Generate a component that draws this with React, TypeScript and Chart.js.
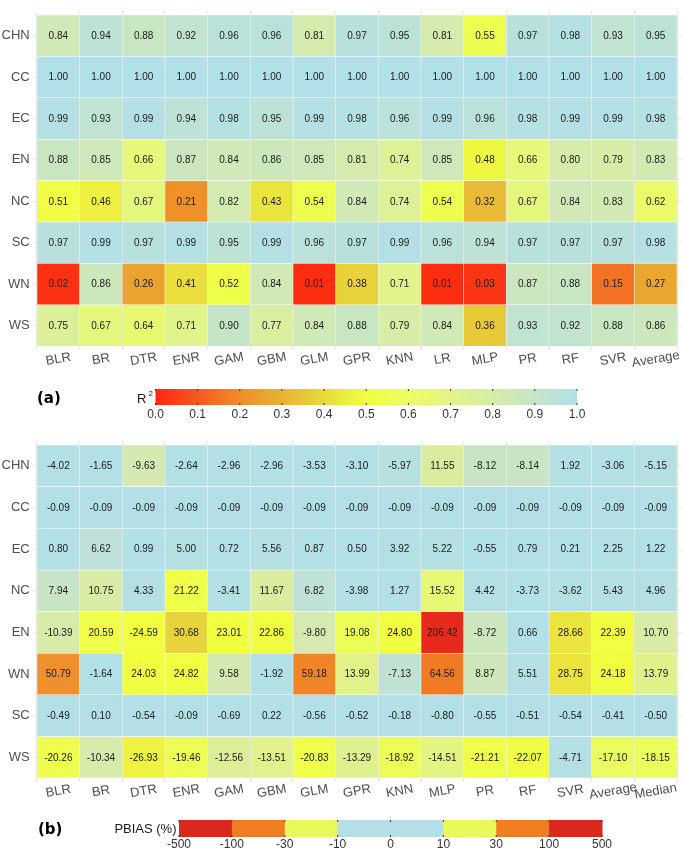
import { useEffect, useRef } from "react";
import { Chart, registerables } from "chart.js";

Chart.register(...registerables);

// ---------------- Data: panel (a) R² ----------------
const r2Columns = ["BLR", "BR", "DTR", "ENR", "GAM", "GBM", "GLM", "GPR", "KNN", "LR", "MLP", "PR", "RF", "SVR", "Average"];
const r2Rows = ["CHN", "CC", "EC", "EN", "NC", "SC", "WN", "WS"];
const r2CHN = [0.84, 0.94, 0.88, 0.92, 0.96, 0.96, 0.81, 0.97, 0.95, 0.81, 0.55, 0.97, 0.98, 0.93, 0.95];
const r2CC = [1.0, 1.0, 1.0, 1.0, 1.0, 1.0, 1.0, 1.0, 1.0, 1.0, 1.0, 1.0, 1.0, 1.0, 1.0];
const r2EC = [0.99, 0.93, 0.99, 0.94, 0.98, 0.95, 0.99, 0.98, 0.96, 0.99, 0.96, 0.98, 0.99, 0.99, 0.98];
const r2EN = [0.88, 0.85, 0.66, 0.87, 0.84, 0.86, 0.85, 0.81, 0.74, 0.85, 0.48, 0.66, 0.8, 0.79, 0.83];
const r2NC = [0.51, 0.46, 0.67, 0.21, 0.82, 0.43, 0.54, 0.84, 0.74, 0.54, 0.32, 0.67, 0.84, 0.83, 0.62];
const r2SC = [0.97, 0.99, 0.97, 0.99, 0.95, 0.99, 0.96, 0.97, 0.99, 0.96, 0.94, 0.97, 0.97, 0.97, 0.98];
const r2WN = [0.02, 0.86, 0.26, 0.41, 0.52, 0.84, 0.01, 0.38, 0.71, 0.01, 0.03, 0.87, 0.88, 0.15, 0.27];
const r2WS = [0.75, 0.67, 0.64, 0.71, 0.9, 0.77, 0.84, 0.88, 0.79, 0.84, 0.36, 0.93, 0.92, 0.88, 0.86];
const r2Values = [r2CHN, r2CC, r2EC, r2EN, r2NC, r2SC, r2WN, r2WS];
const r2TickLabels = ["0.0", "0.1", "0.2", "0.3", "0.4", "0.5", "0.6", "0.7", "0.8", "0.9", "1.0"];

// ---------------- Data: panel (b) PBIAS ----------------
const pbColumns = ["BLR", "BR", "DTR", "ENR", "GAM", "GBM", "GLM", "GPR", "KNN", "MLP", "PR", "RF", "SVR", "Average", "Median"];
const pbRows = ["CHN", "CC", "EC", "NC", "EN", "WN", "SC", "WS"];
const pbCHN = [-4.02, -1.65, -9.63, -2.64, -2.96, -2.96, -3.53, -3.1, -5.97, 11.55, -8.12, -8.14, 1.92, -3.06, -5.15];
const pbCC = [-0.09, -0.09, -0.09, -0.09, -0.09, -0.09, -0.09, -0.09, -0.09, -0.09, -0.09, -0.09, -0.09, -0.09, -0.09];
const pbEC = [0.8, 6.62, 0.99, 5.0, 0.72, 5.56, 0.87, 0.5, 3.92, 5.22, -0.55, 0.79, 0.21, 2.25, 1.22];
const pbNC = [7.94, 10.75, 4.33, 21.22, -3.41, 11.67, 6.82, -3.98, 1.27, 15.52, 4.42, -3.73, -3.62, 5.43, 4.96];
const pbEN = [-10.39, 20.59, -24.59, 30.68, 23.01, 22.86, -9.8, 19.08, 24.8, 206.42, -8.72, 0.66, 28.66, 22.39, 10.7];
const pbWN = [50.79, -1.64, 24.03, 24.82, 9.58, -1.92, 59.18, 13.99, -7.13, 64.56, 8.87, 5.51, 28.75, 24.18, 13.79];
const pbSC = [-0.49, 0.1, -0.54, -0.09, -0.69, 0.22, -0.56, -0.52, -0.18, -0.8, -0.55, -0.51, -0.54, -0.41, -0.5];
const pbWS = [-20.26, -10.34, -26.93, -19.46, -12.56, -13.51, -20.83, -13.29, -18.92, -14.51, -21.21, -22.07, -4.71, -17.1, -18.15];
const pbValues = [pbCHN, pbCC, pbEC, pbNC, pbEN, pbWN, pbSC, pbWS];
const pbTickLabels = ["-500", "-100", "-30", "-10", "0", "10", "30", "100", "500"];

// ---------------- Styling ----------------
const FONT = "'Liberation Sans', Arial, Helvetica, sans-serif";
const W = 685;
const H_A = 430;
const H_B = 421;

type Stop = [number, number[]];
const R2_STOPS: Stop[] = [
  [0.0, [255, 40, 16]],
  [0.1, [246, 88, 30]],
  [0.2, [240, 140, 40]],
  [0.3, [232, 178, 52]],
  [0.4, [232, 218, 58]],
  [0.5, [240, 255, 64]],
  [0.6, [236, 252, 98]],
  [0.7, [226, 244, 136]],
  [0.8, [214, 236, 170]],
  [0.9, [198, 228, 200]],
  [1.0, [178, 224, 232]],
];
const PB_STOPS: Stop[] = [
  [0, [178, 224, 230]],
  [5.6, [180, 224, 228]],
  [7, [192, 226, 212]],
  [8, [200, 228, 198]],
  [9.6, [212, 232, 178]],
  [10.7, [216, 236, 166]],
  [12.5, [220, 238, 152]],
  [14, [226, 242, 136]],
  [15.5, [230, 248, 118]],
  [17, [234, 252, 98]],
  [19, [236, 253, 88]],
  [21, [240, 255, 72]],
  [23, [240, 255, 64]],
  [25, [240, 255, 64]],
  [27, [238, 242, 64]],
  [29, [234, 226, 62]],
  [31, [232, 208, 60]],
  [50, [240, 145, 46]],
  [60, [240, 132, 38]],
  [65, [240, 122, 34]],
  [200, [232, 42, 28]],
  [500, [215, 40, 30]],
];
const PB_LEGEND = ["#d9291e", "#f07d22", "#e8fa58", "#b3e0e6", "#b3e0e6", "#e8fa58", "#f07d22", "#d9291e"];

function interp(stops: Stop[], v: number): string {
  const rgb = (c: number[]) => `rgb(${Math.round(c[0])},${Math.round(c[1])},${Math.round(c[2])})`;
  if (v <= stops[0][0]) return rgb(stops[0][1]);
  for (let i = 1; i < stops.length; i++) {
    if (v <= stops[i][0]) {
      const [a, ca] = stops[i - 1];
      const [b, cb] = stops[i];
      const t = (v - a) / (b - a);
      return rgb(ca.map((x, k) => x + (cb[k] - x) * t));
    }
  }
  return rgb(stops[stops.length - 1][1]);
}
const r2Color = (v: number) => interp(R2_STOPS, v);
const pbColor = (v: number) => interp(PB_STOPS, Math.abs(v));

type Panel = { left: number; right: number; top: number; bottom: number };

function buildChart(
  canvas: HTMLCanvasElement,
  height: number,
  rows: string[],
  cols: string[],
  values: number[][],
  color: (v: number) => string,
  panel: Panel,
  drawLegend: (ctx: CanvasRenderingContext2D) => void
) {
  const datasets = rows.map((row, r) => ({
    label: row,
    data: cols.map((_, c) => ({ x: c, y: [r - 0.5, r + 0.5] })),
    backgroundColor: values[r].map(color),
    borderColor: "rgba(255,255,255,0.35)",
    borderWidth: 0.6,
    borderSkipped: false,
    grouped: false,
    barPercentage: 1,
    categoryPercentage: 1,
  }));

  const plugin = {
    id: "heatLabels",
    afterDatasetsDraw(chart: any) {
      const ctx = chart.ctx as CanvasRenderingContext2D;
      ctx.save();
      ctx.font = `10px ${FONT}`;
      ctx.fillStyle = "#1a1a1a";
      ctx.textAlign = "center";
      ctx.textBaseline = "middle";
      chart.data.datasets.forEach((_: any, r: number) => {
        const meta = chart.getDatasetMeta(r);
        meta.data.forEach((el: any, c: number) => {
          const { x, y, base } = el.getProps(["x", "y", "base"], true);
          ctx.fillText(values[r][c].toFixed(2), x, (y + base) / 2 + 0.5);
        });
      });
      ctx.restore();
    },
    afterDraw(chart: any) {
      const ctx = chart.ctx as CanvasRenderingContext2D;
      const xs = chart.scales.x;
      ctx.save();
      ctx.font = `13px ${FONT}`;
      ctx.fillStyle = "#4d4d4d";
      ctx.textAlign = "center";
      ctx.textBaseline = "middle";
      cols.forEach((lab, c) => {
        const px = xs.getPixelForValue(c);
        const py = chart.chartArea.bottom + 9;
        ctx.save();
        ctx.translate(px, py);
        ctx.rotate((-10 * Math.PI) / 180);
        ctx.fillText(lab, 0, 0);
        ctx.restore();
      });
      ctx.restore();
      ctx.save();
      drawLegend(ctx);
      ctx.restore();
    },
  };

  const maxX = cols.length - 1 + 0.6;
  const maxY = rows.length - 1 + 0.6;

  return new Chart(canvas, {
    type: "bar",
    data: { datasets: datasets as any },
    options: {
      animation: false,
      responsive: false,
      maintainAspectRatio: false,
      devicePixelRatio: 1,
      layout: { padding: { left: 0, right: W - panel.right, top: panel.top, bottom: 0 } },
      plugins: { legend: { display: false }, tooltip: { enabled: false } },
      scales: {
        x: {
          type: "linear",
          min: -0.6,
          max: maxX,
          offset: false,
          grid: { color: "#e6e6e6", lineWidth: 1, drawTicks: false },
          border: { display: false },
          ticks: { display: false },
          afterBuildTicks: (scale: any) => {
            scale.ticks = cols.map((_, i) => ({ value: i }));
          },
          afterFit: (scale: any) => {
            scale.height = height - panel.bottom;
          },
        },
        y: {
          type: "linear",
          reverse: true,
          min: -0.6,
          max: maxY,
          grid: { color: "#e6e6e6", lineWidth: 1, drawTicks: false },
          border: { display: false },
          ticks: {
            padding: 3,
            color: "#4d4d4d",
            font: { size: 13, family: FONT },
            callback: (v: any) => rows[Math.round(Number(v))] ?? "",
          },
          afterBuildTicks: (scale: any) => {
            scale.ticks = rows.map((_, i) => ({ value: i }));
          },
          afterFit: (scale: any) => {
            scale.width = panel.left;
          },
        },
      },
    },
    plugins: [plugin as any],
  });
}

function drawLegendA(ctx: CanvasRenderingContext2D) {
  const x0 = 155.5;
  const x1 = 577;
  const y0 = 389;
  const y1 = 405;
  const g = ctx.createLinearGradient(x0, 0, x1, 0);
  for (let i = 0; i <= 40; i++) {
    const v = i / 40;
    g.addColorStop(v, r2Color(v));
  }
  ctx.fillStyle = g;
  ctx.fillRect(x0, y0, x1 - x0, y1 - y0);
  ctx.strokeStyle = "#333";
  ctx.lineWidth = 1;
  r2TickLabels.forEach((_, i) => {
    const px = x0 + ((x1 - x0) * i) / (r2TickLabels.length - 1);
    ctx.beginPath();
    ctx.moveTo(px, y0);
    ctx.lineTo(px, y0 + 2);
    ctx.moveTo(px, y1 - 2);
    ctx.lineTo(px, y1);
    ctx.stroke();
  });
  ctx.fillStyle = "#333";
  ctx.font = `12px ${FONT}`;
  ctx.textAlign = "center";
  ctx.textBaseline = "middle";
  r2TickLabels.forEach((lab, i) => {
    const px = x0 + ((x1 - x0) * i) / (r2TickLabels.length - 1);
    ctx.fillText(lab, px, 414.5);
  });
  // R² title
  ctx.fillStyle = "#1a1a1a";
  ctx.textAlign = "left";
  ctx.textBaseline = "alphabetic";
  ctx.font = `13px ${FONT}`;
  ctx.fillText("R", 137, 403);
  ctx.font = `8px ${FONT}`;
  ctx.fillText("2", 148.5, 396);
  // (a)
  ctx.font = `bold 15px 'DejaVu Sans', sans-serif`;
  ctx.textAlign = "left";
  ctx.textBaseline = "middle";
  ctx.fillStyle = "#000";
  ctx.fillText("(a)", 37, 399.5);
}

function drawLegendB(ctx: CanvasRenderingContext2D) {
  const x0 = 179;
  const x1 = 602;
  const y0 = 390;
  const y1 = 407;
  const n = PB_LEGEND.length;
  const w = (x1 - x0) / n;
  PB_LEGEND.forEach((c, i) => {
    ctx.fillStyle = c;
    ctx.fillRect(x0 + i * w, y0, w + 0.5, y1 - y0);
  });
  ctx.strokeStyle = "#333";
  ctx.lineWidth = 1;
  pbTickLabels.forEach((_, i) => {
    const px = x0 + i * w;
    ctx.beginPath();
    ctx.moveTo(px, y0);
    ctx.lineTo(px, y0 + 2);
    ctx.moveTo(px, y1 - 2);
    ctx.lineTo(px, y1);
    ctx.stroke();
  });
  ctx.fillStyle = "#333";
  ctx.font = `12px ${FONT}`;
  ctx.textAlign = "center";
  ctx.textBaseline = "middle";
  pbTickLabels.forEach((lab, i) => {
    ctx.fillText(lab, x0 + i * w, 415);
  });
  ctx.fillStyle = "#1a1a1a";
  ctx.font = `13px ${FONT}`;
  ctx.textAlign = "right";
  ctx.fillText("PBIAS (%)", 176.5, 399.5);
  ctx.font = `bold 15px 'DejaVu Sans', sans-serif`;
  ctx.textAlign = "left";
  ctx.fillStyle = "#000";
  ctx.fillText("(b)", 38, 400);
}

export default function App() {
  const refA = useRef<HTMLCanvasElement | null>(null);
  const refB = useRef<HTMLCanvasElement | null>(null);

  useEffect(() => {
    if (!refA.current || !refB.current) return;
    const a = buildChart(
      refA.current,
      H_A,
      r2Rows,
      r2Columns,
      r2Values,
      r2Color,
      { left: 32.7, right: 681.3, top: 0.7, bottom: 350.3 },
      drawLegendA
    );
    const b = buildChart(
      refB.current,
      H_B,
      pbRows,
      pbColumns,
      pbValues,
      pbColor,
      { left: 32.7, right: 681.3, top: 2.4, bottom: 352.3 },
      drawLegendB
    );
    return () => {
      a.destroy();
      b.destroy();
    };
  }, []);

  return (
    <div style={{ position: "absolute", left: 0, top: 0, width: W, height: H_A + H_B, background: "#fff" }}>
      <canvas
        ref={refA}
        width={W}
        height={H_A}
        style={{ position: "absolute", left: 0, top: 0, width: W, height: H_A, display: "block" }}
      />
      <canvas
        ref={refB}
        width={W}
        height={H_B}
        style={{ position: "absolute", left: 0, top: H_A, width: W, height: H_B, display: "block" }}
      />
    </div>
  );
}
